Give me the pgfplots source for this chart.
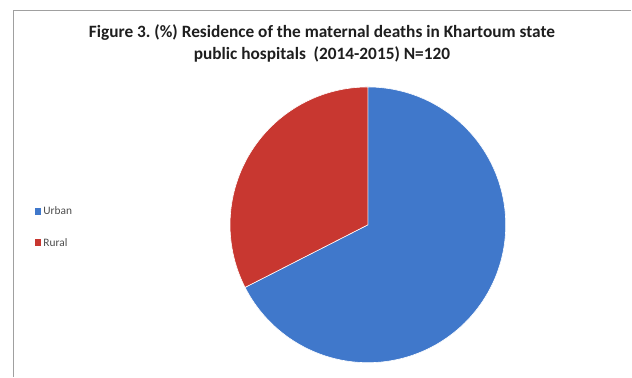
\documentclass[border=0pt]{standalone}
\usepackage{pgfplots}
\usepackage{pgfplotstable}
\pgfplotsset{compat=1.18}
\usepackage{fontspec}
\setmainfont{Carlito}
\frenchspacing
\definecolor{urbanblue}{RGB}{64,120,203}
\definecolor{ruralred}{RGB}{200,55,48}
\definecolor{framegray}{RGB}{160,160,160}
\definecolor{txt}{RGB}{30,30,30}

\pgfplotstableread{
label value
Urban 81
Rural 39
}\piedata

\begin{document}
\pgfplotstablegetelem{0}{value}\of\piedata \let\vU\pgfplotsretval
\pgfplotstablegetelem{1}{value}\of\piedata \let\vR\pgfplotsretval
\pgfmathsetmacro{\tot}{\vU+\vR}
\pgfmathsetmacro{\fracU}{\vU/\tot}
\pgfmathsetmacro{\aU}{90-360*\fracU}
\begin{tikzpicture}
\begin{axis}[
  width=632bp, height=381bp, scale only axis,
  xmin=0, xmax=632, ymin=0, ymax=381,
  hide axis, clip=false,
  legend style={at={(axis cs:28,151)}, anchor=west, draw=none, fill=none,
    font=\fontsize{11.5bp}{13.8bp}\selectfont, text=txt!80, row sep=18bp, inner sep=0pt,
    cells={anchor=west}},
  legend image code/.code={\fill[#1,draw=none] (0bp,-3.5bp) rectangle (7bp,3.5bp);},
]
% page extent
\path (axis cs:0,0) rectangle (axis cs:632,381);
% frame
\draw[framegray, line width=1.5bp] (axis cs:7,0) -- (axis cs:7,370.5) -- (axis cs:632,370.5);
% title
\node[font=\bfseries\fontsize{17.5bp}{22bp}\selectfont, text=txt, align=center, anchor=center]
  at (axis cs:319,337) {Figure 3. (\%) Residence of the maternal deaths in Khartoum state\\public hospitals\ \ (2014-2015) N=120};
% slices
\addplot[fill=urbanblue, draw=white, line width=0.6bp, domain=90:\aU, samples=150]
  ({365.5+139.5*cos(x)},{153.5+139.5*sin(x)}) -- (axis cs:365.5,153.5) -- cycle;
\addlegendentry{Urban}
\addplot[fill=ruralred, draw=white, line width=0.6bp, domain=90:{\aU+360}, samples=100]
  ({365.5+139.5*cos(x)},{153.5+139.5*sin(x)}) -- (axis cs:365.5,153.5) -- cycle;
\addlegendentry{Rural}
\end{axis}
\end{tikzpicture}
\end{document}
